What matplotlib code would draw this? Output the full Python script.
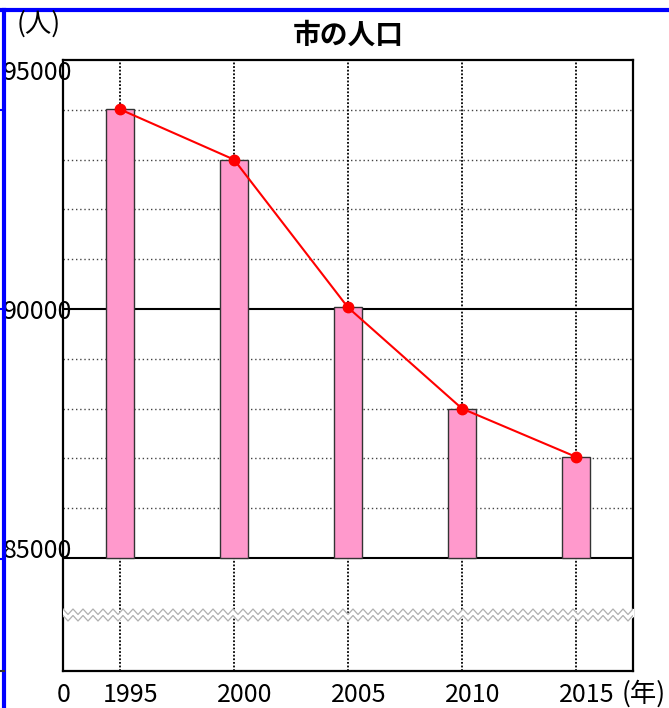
import numpy as np
import matplotlib
matplotlib.use('Agg')
import matplotlib.pyplot as plt
from matplotlib.lines import Line2D
from matplotlib.transforms import ScaledTranslation

plt.rcParams['font.family'] = ['Noto Sans CJK JP', 'DejaVu Sans']

# data
years = ['1995', '2000', '2005', '2010', '2015']
population = [94010, 93000, 90030, 88000, 87030]
y_ticks = [0, 85000, 90000, 95000]
y_labels = ['0', '85000', '90000', '95000']

BASE = 85000
LOW = 2.27          # height of the cut part (0 .. 85000) in units of 1000 people


def fwd(v):
    v = np.asarray(v, dtype=float)
    return np.where(v >= BASE, (v - BASE) / 1000, (v / BASE - 1) * LOW)


def inv(u):
    u = np.asarray(u, dtype=float)
    return np.where(u >= 0, u * 1000 + BASE, (u / LOW + 1) * BASE)


W, H = 669, 708
fig = plt.figure(figsize=(W / 100, H / 100), dpi=100)
ax = fig.add_axes([63 / W, 1 - 671 / H, 570 / W, 611 / H])
ax.set_yscale('function', functions=(fwd, inv))

x = np.arange(len(years))
ax.set_xlim(-0.5, len(years) - 0.5)
ax.set_ylim(0, 95000)

# grid
for v in range(86000, 95000, 1000):
    if v != 90000:
        ax.axhline(v, color='#444444', lw=1, ls=(0, (1, 2)), zorder=0)
for v in (85000, 90000):
    ax.axhline(v, color='black', lw=1.5, zorder=1)
for xi in x:
    ax.axvline(xi, color='black', lw=1.3, ls=(0, (1, 1)), zorder=0)

# bars + line
ax.bar(x, np.array(population) - BASE, bottom=BASE, width=0.25,
       color='#ff99cc', edgecolor='#333333', linewidth=1, zorder=2)
ax.plot(x, population, color='red', lw=1.5, marker='o', markersize=7.5, zorder=3)

# zigzag break
per = 10 / 570
zx = np.arange(0, 1 + per, per / 2)
zz = np.where(np.arange(len(zx)) % 2 == 0, 0, 1)
up_top = (671 - 609) / 611
amp = 5.5 / 611
shift = 6.5 / 611
upper = up_top - zz * amp
lower = upper - shift
ax.fill_between(zx, lower, upper, color='white', transform=ax.transAxes, zorder=4)
ax.plot(zx, upper, color='#b0b0b0', lw=0.9, transform=ax.transAxes, zorder=5)
ax.plot(zx, lower, color='#b0b0b0', lw=0.9, transform=ax.transAxes, zorder=5)

# frame
for s in ax.spines.values():
    s.set_linewidth(1.6)
    s.set_color('black')

# ticks
ax.set_xticks(x)
ax.set_xticklabels(years, fontsize=18)
ax.tick_params(axis='x', length=0, pad=22)
for lab in ax.get_xticklabels():
    lab.set_va('baseline')
    lab.set_transform(lab.get_transform() + ScaledTranslation(11 / 100, 0, fig.dpi_scale_trans))

ax.set_yticks(y_ticks)
ax.set_yticklabels(y_labels, fontsize=18)
ax.yaxis.set_minor_locator(plt.NullLocator())
ax.tick_params(axis='y', length=0, pad=-7)
offsets = {'0': (-9, -31), '85000': (0, 0), '90000': (0, -10), '95000': (0, -20)}
for lab in ax.get_yticklabels():
    dx, dy = offsets[lab.get_text()]
    lab.set_va('baseline')
    if lab.get_text() == '0':
        lab.set_ha('center')
    lab.set_transform(lab.get_transform() + ScaledTranslation(dx / 100, dy / 100, fig.dpi_scale_trans))

# texts
fig.text(348 / W, 1 - 44 / H, '市の人口', fontsize=20, fontweight='bold', ha='center', va='baseline')
fig.text(17 / W, 1 - 32 / H, '(人)', fontsize=19, ha='left', va='baseline')
fig.text(622 / W, 1 - 702 / H, '(年)', fontsize=19, ha='left', va='baseline')

# blue border
fig.add_artist(Line2D([0, 1], [1 - 10 / H, 1 - 10 / H], color='blue', lw=3, transform=fig.transFigure))
fig.add_artist(Line2D([4 / W, 4 / W], [0, 1 - 10 / H], color='blue', lw=3, transform=fig.transFigure))
for yy, c in ((110, 'blue'), (309, 'blue'), (559, 'blue'), (671, '#333333')):
    fig.add_artist(Line2D([0, 4 / W], [1 - yy / H, 1 - yy / H], color=c, lw=1.5, transform=fig.transFigure))

fig.savefig('out.png', dpi=100)
